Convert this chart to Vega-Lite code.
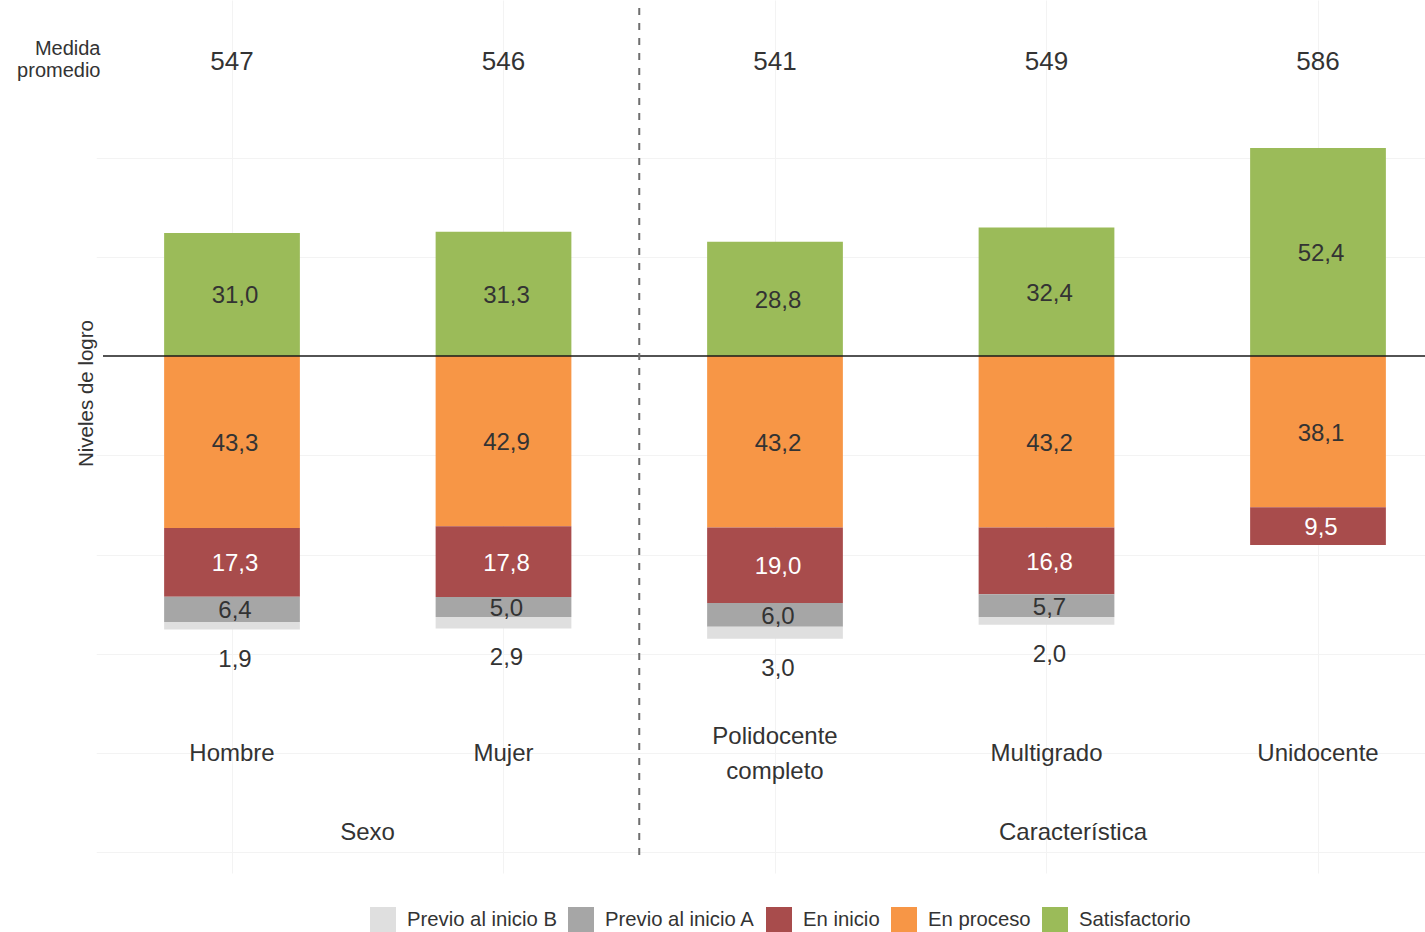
{
  "$schema": "https://vega.github.io/schema/vega-lite/v6.json",
  "usermeta": {"embedOptions": {"actions": false}},
  "width": 1322,
  "height": 873,
  "autosize": "none",
  "padding": {"left": 103, "top": 0, "right": 0, "bottom": 59},
  "background": "white",
  "config": {
    "locale": {"number": {"decimal": ",", "thousands": ".", "grouping": [3], "currency": ["", ""]}},
    "font": "Liberation Sans",
    "view": {"stroke": null},
    "text": {"font": "Liberation Sans", "color": "#333333"}
  },
  "datasets": {
    "niveles": [
      {"categoria": "Hombre", "nivel": "Satisfactorio", "valor": 31.0},
      {"categoria": "Hombre", "nivel": "En proceso", "valor": 43.3},
      {"categoria": "Hombre", "nivel": "En inicio", "valor": 17.3},
      {"categoria": "Hombre", "nivel": "Previo al inicio A", "valor": 6.4},
      {"categoria": "Hombre", "nivel": "Previo al inicio B", "valor": 1.9},
      {"categoria": "Mujer", "nivel": "Satisfactorio", "valor": 31.3},
      {"categoria": "Mujer", "nivel": "En proceso", "valor": 42.9},
      {"categoria": "Mujer", "nivel": "En inicio", "valor": 17.8},
      {"categoria": "Mujer", "nivel": "Previo al inicio A", "valor": 5.0},
      {"categoria": "Mujer", "nivel": "Previo al inicio B", "valor": 2.9},
      {"categoria": "Polidocente completo", "nivel": "Satisfactorio", "valor": 28.8},
      {"categoria": "Polidocente completo", "nivel": "En proceso", "valor": 43.2},
      {"categoria": "Polidocente completo", "nivel": "En inicio", "valor": 19.0},
      {"categoria": "Polidocente completo", "nivel": "Previo al inicio A", "valor": 6.0},
      {"categoria": "Polidocente completo", "nivel": "Previo al inicio B", "valor": 3.0},
      {"categoria": "Multigrado", "nivel": "Satisfactorio", "valor": 32.4},
      {"categoria": "Multigrado", "nivel": "En proceso", "valor": 43.2},
      {"categoria": "Multigrado", "nivel": "En inicio", "valor": 16.8},
      {"categoria": "Multigrado", "nivel": "Previo al inicio A", "valor": 5.7},
      {"categoria": "Multigrado", "nivel": "Previo al inicio B", "valor": 2.0},
      {"categoria": "Unidocente", "nivel": "Satisfactorio", "valor": 52.4},
      {"categoria": "Unidocente", "nivel": "En proceso", "valor": 38.1},
      {"categoria": "Unidocente", "nivel": "En inicio", "valor": 9.5}
    ],
    "medidas": [
      {"categoria": "Hombre", "medida": 547},
      {"categoria": "Mujer", "medida": 546},
      {"categoria": "Polidocente completo", "medida": 541},
      {"categoria": "Multigrado", "medida": 549},
      {"categoria": "Unidocente", "medida": 586}
    ],
    "grupos": [
      {"grupo": "Sexo"},
      {"grupo": "Característica"}
    ]
  },
  "layer": [
    {
      "layer": [
        {
          "data": {"name": "niveles"},
          "transform": [
            {"calculate": "indexof(['Satisfactorio','En proceso','En inicio','Previo al inicio A','Previo al inicio B'], datum.nivel)", "as": "orden"},
            {"calculate": "datum.nivel == 'Satisfactorio' ? datum.valor : -datum.valor", "as": "signo"},
            {"stack": "signo", "groupby": ["categoria"], "sort": [{"field": "orden", "order": "ascending"}], "as": ["y0", "y1"]}
          ],
          "mark": {"type": "bar", "width": {"band": 0.5}},
          "encoding": {
            "x": {
              "field": "categoria", "type": "nominal",
              "scale": {"domain": ["Hombre", "Mujer", "Polidocente completo", "Multigrado", "Unidocente"], "range": [-6.75, 1350.75], "paddingInner": 0, "paddingOuter": 0},
              "axis": {"grid": true, "gridColor": "#f3f3f3", "labels": false, "ticks": false, "domain": false, "title": null}
            },
            "y": {
              "field": "y0", "type": "quantitative",
              "scale": {"domain": [-130.2, 89.67], "nice": false, "zero": false},
              "axis": {
                "values": [74.06, 50, 25, -25, -50, -75, -100, -125],
                "labelExpr": "datum.value > 70 ? ['Medida', 'promedio'] : ''",
                "title": "Niveles de logro",
                "ticks": false, "domain": false,
                "labelPadding": 3, "labelFontSize": 20, "labelColor": "#333333", "labelLineHeight": 22, "labelFont": "Liberation Sans",
                "labelOffset": -13,
                "gridColor": "#f3f3f3",
                "gridOpacity": {"condition": {"test": "datum.value > 70", "value": 0}, "value": 1},
                "titleX": -11, "titleY": 393, "titleBaseline": "alphabetic",
                "titleFontSize": 20.5, "titleFontWeight": "normal", "titleColor": "#333333", "titleFont": "Liberation Sans"
              }
            },
            "y2": {"field": "y1"},
            "color": {
              "field": "nivel", "type": "nominal",
              "scale": {
                "domain": ["Previo al inicio B", "Previo al inicio A", "En inicio", "En proceso", "Satisfactorio"],
                "range": ["#dfdfdf", "#a6a6a6", "#a84c4c", "#f79646", "#9bbb59"]
              },
              "legend": {
                "orient": "none", "legendX": 267, "legendY": 907, "direction": "horizontal", "columns": 5,
                "title": null, "symbolType": "square", "symbolSize": 676, "symbolStrokeWidth": 0,
                "labelFontSize": 20.3, "labelColor": "#333333", "labelFont": "Liberation Sans",
                "labelOffset": 11, "columnPadding": 11, "padding": 0
              }
            }
          }
        },
        {
          "data": {"name": "niveles"},
          "transform": [
            {"calculate": "indexof(['Satisfactorio','En proceso','En inicio','Previo al inicio A','Previo al inicio B'], datum.nivel)", "as": "orden"},
            {"calculate": "datum.nivel == 'Satisfactorio' ? datum.valor : -datum.valor", "as": "signo"},
            {"stack": "signo", "groupby": ["categoria"], "sort": [{"field": "orden", "order": "ascending"}], "as": ["y0", "y1"]},
            {"filter": "datum.nivel != 'Previo al inicio B'"},
            {"calculate": "(datum.y0 + datum.y1) / 2", "as": "ymid"}
          ],
          "mark": {"type": "text", "fontSize": 24, "baseline": "middle", "dx": 3, "dy": 2},
          "encoding": {
            "x": {"field": "categoria", "type": "nominal", "scale": {"domain": ["Hombre", "Mujer", "Polidocente completo", "Multigrado", "Unidocente"]}},
            "y": {"field": "ymid", "type": "quantitative"},
            "text": {"field": "valor", "type": "quantitative", "format": ".1f"},
            "color": {"condition": {"test": "datum.nivel == 'En inicio'", "value": "#ffffff"}, "value": "#333333"}
          }
        },
        {
          "data": {"name": "niveles"},
          "transform": [
            {"calculate": "indexof(['Satisfactorio','En proceso','En inicio','Previo al inicio A','Previo al inicio B'], datum.nivel)", "as": "orden"},
            {"calculate": "datum.nivel == 'Satisfactorio' ? datum.valor : -datum.valor", "as": "signo"},
            {"stack": "signo", "groupby": ["categoria"], "sort": [{"field": "orden", "order": "ascending"}], "as": ["y0", "y1"]},
            {"filter": "datum.nivel == 'Previo al inicio B'"},
            {"calculate": "min(datum.y0, datum.y1)", "as": "yfin"}
          ],
          "mark": {"type": "text", "fontSize": 24, "baseline": "middle", "dx": 3, "dy": 30, "color": "#333333"},
          "encoding": {
            "x": {"field": "categoria", "type": "nominal", "scale": {"domain": ["Hombre", "Mujer", "Polidocente completo", "Multigrado", "Unidocente"]}},
            "y": {"field": "yfin", "type": "quantitative"},
            "text": {"field": "valor", "type": "quantitative", "format": ".1f"}
          }
        },
        {
          "data": {"name": "medidas"},
          "mark": {"type": "text", "fontSize": 26, "baseline": "middle", "color": "#333333"},
          "encoding": {
            "x": {"field": "categoria", "type": "nominal", "scale": {"domain": ["Hombre", "Mujer", "Polidocente completo", "Multigrado", "Unidocente"]}},
            "y": {"datum": 74.06, "type": "quantitative"},
            "text": {"field": "medida", "type": "quantitative", "format": "d"}
          }
        },
        {
          "data": {"name": "medidas"},
          "transform": [{"filter": "indexof(datum.categoria, ' ') < 0"}],
          "mark": {"type": "text", "fontSize": 24, "baseline": "middle", "dy": 1, "color": "#333333"},
          "encoding": {
            "x": {"field": "categoria", "type": "nominal", "scale": {"domain": ["Hombre", "Mujer", "Polidocente completo", "Multigrado", "Unidocente"]}},
            "y": {"datum": -100, "type": "quantitative"},
            "text": {"field": "categoria", "type": "nominal"}
          }
        },
        {
          "data": {"name": "medidas"},
          "transform": [{"filter": "indexof(datum.categoria, ' ') >= 0"}],
          "mark": {"type": "text", "fontSize": 24, "baseline": "middle", "lineBreak": " ", "lineHeight": 35, "dy": -16, "color": "#333333"},
          "encoding": {
            "x": {"field": "categoria", "type": "nominal", "scale": {"domain": ["Hombre", "Mujer", "Polidocente completo", "Multigrado", "Unidocente"]}},
            "y": {"datum": -100, "type": "quantitative"},
            "text": {"field": "categoria", "type": "nominal"}
          }
        },
        {
          "data": {"values": [{}]},
          "mark": {"type": "rule", "color": "#1a1a1a", "strokeWidth": 1.6},
          "encoding": {"y": {"datum": 0, "type": "quantitative"}}
        },
        {
          "data": {"values": [{}]},
          "mark": {"type": "rule", "color": "#6e6e6e", "strokeWidth": 2, "strokeDash": [7, 8]},
          "encoding": {
            "x": {"datum": "Polidocente completo", "type": "nominal", "bandPosition": 0},
            "y": {"datum": 87.65, "type": "quantitative"},
            "y2": {"datum": -125.68}
          }
        }
      ]
    },
    {
      "data": {"name": "grupos"},
      "mark": {"type": "text", "fontSize": 24, "baseline": "middle", "color": "#333333"},
      "encoding": {
        "x": {"field": "grupo", "type": "nominal", "scale": {"type": "point", "domain": ["Sexo", "Característica"], "range": [264.5, 970], "padding": 0}, "axis": null},
        "y": {"datum": -120.15, "type": "quantitative"},
        "text": {"field": "grupo", "type": "nominal"}
      }
    }
  ],
  "resolve": {"scale": {"x": "independent"}}
}
